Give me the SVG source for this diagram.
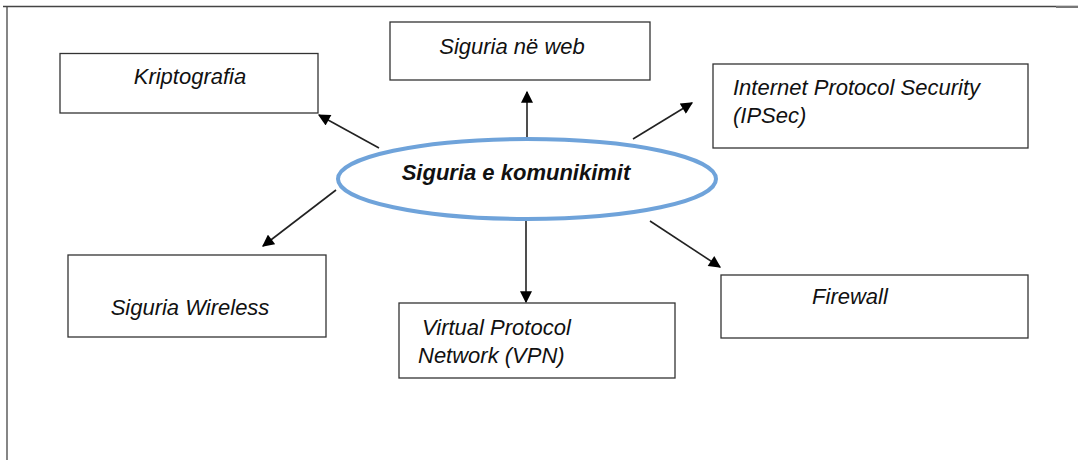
<svg xmlns="http://www.w3.org/2000/svg" width="1078" height="460" viewBox="0 0 1078 460">
<defs>
<style>
.box{fill:#fff;stroke:#333;stroke-width:1.3}
.t{font-family:"Liberation Sans",Arial,sans-serif;font-style:italic;font-size:22px;fill:#111}
.c{stroke:#222;stroke-width:1.6;fill:none;marker-end:url(#ah)}
</style>
<marker id="ah" viewBox="0 0 10 10" refX="9" refY="5" markerWidth="13" markerHeight="12" orient="auto" markerUnits="userSpaceOnUse">
<path d="M0,0 L10,5 L0,10 z" fill="#000"/>
</marker>
</defs>
<rect width="1078" height="460" fill="#fff"/>
<g id="frame">
<line x1="3" y1="6.5" x2="1078" y2="6.5" stroke="#444" stroke-width="1.3"/>
<line x1="1056" y1="7" x2="1078" y2="7" stroke="#777" stroke-width="2"/>
<line x1="7" y1="6" x2="7" y2="460" stroke="#444" stroke-width="1.3"/>
</g>
<g id="connectors">
<line class="c" x1="379" y1="148" x2="319" y2="115"/>
<line class="c" x1="527" y1="138" x2="527" y2="92"/>
<line class="c" x1="633" y1="139" x2="692" y2="103"/>
<line class="c" x1="336" y1="190" x2="263" y2="246"/>
<line class="c" x1="526" y1="220" x2="526" y2="302"/>
<line class="c" x1="650" y1="221" x2="720" y2="267"/>
</g>
<g id="center">
<ellipse cx="527" cy="179" rx="189" ry="40" fill="#fff" stroke="#6fa3da" stroke-width="4"/>
<text class="t" x="516" y="180" text-anchor="middle" font-weight="bold" font-size="20">Siguria e komunikimit</text>
</g>
<g id="kriptografia">
<rect class="box" x="60" y="53.5" width="258" height="59.5"/>
<text class="t" x="190" y="84" text-anchor="middle">Kriptografia</text>
</g>
<g id="web">
<rect class="box" x="390" y="22" width="260" height="58"/>
<text class="t" x="512" y="54" text-anchor="middle">Siguria në web</text>
</g>
<g id="ipsec">
<rect class="box" x="713" y="64" width="315" height="84"/>
<text class="t" x="733" y="95">Internet Protocol Security</text>
<text class="t" x="733" y="123">(IPSec)</text>
</g>
<g id="wireless">
<rect class="box" x="68" y="255" width="258" height="82"/>
<text class="t" x="190" y="315" text-anchor="middle">Siguria Wireless</text>
</g>
<g id="vpn">
<rect class="box" x="399" y="303" width="276" height="75"/>
<text class="t" x="422" y="335">Virtual Protocol</text>
<text class="t" x="418" y="363">Network (VPN)</text>
</g>
<g id="firewall">
<rect class="box" x="721" y="275" width="307" height="63"/>
<text class="t" x="850" y="304" text-anchor="middle">Firewall</text>
</g>
</svg>
